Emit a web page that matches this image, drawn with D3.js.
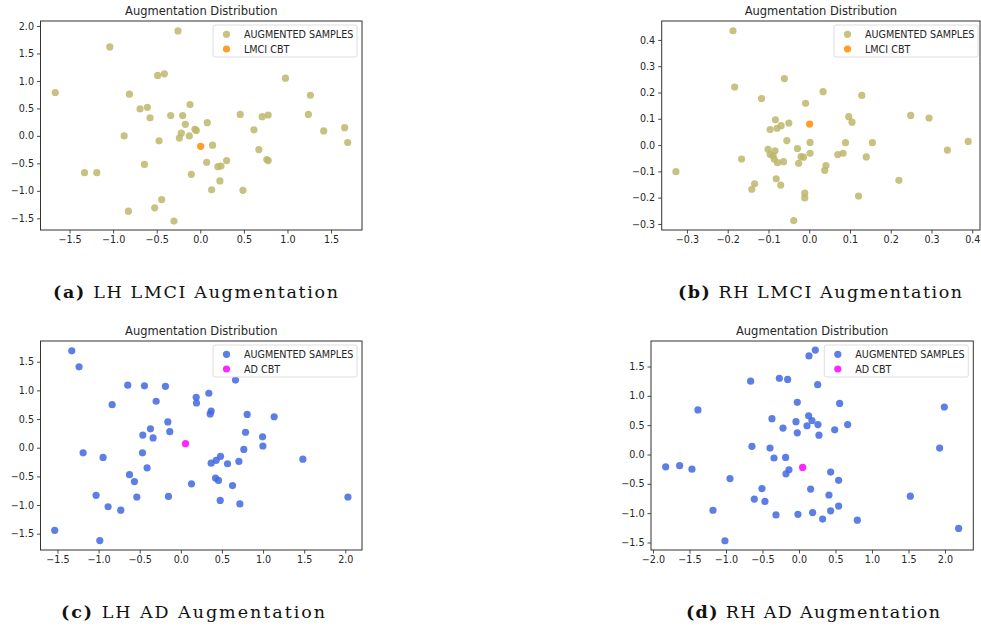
<!DOCTYPE html>
<html>
<head>
<meta charset="utf-8">
<script src="https://cdn.jsdelivr.net/npm/d3@7"></script>
<style>
  body { margin: 0; background: #fff; }
  svg { display: block; }
</style>
</head>
<body>
<svg width="981" height="631"></svg>
<script>
// (a) LH LMCI
var aX = [-0.256,-1.038,-1.664,-0.489,-0.412,-0.813,-0.691,-0.607,-0.576,-0.874,-0.340,-0.118,-0.202,-0.172,-0.061,-0.046,-0.218,-0.240,-0.126,-0.473,0.080,0.141,-0.641,-1.328,-1.187,-0.103,0.073,0.202,0.237,0.302,0.225,0.130,0.489,0.458,0.615,0.672,0.710,0.779,0.763,0.779,0.977,1.263,1.240,1.416,1.656,1.691,-0.443,-0.523,-0.824,-0.302]
var aY = [1.91,1.62,0.79,1.10,1.13,0.76,0.49,0.52,0.33,0.00,0.37,0.57,0.37,0.21,0.12,0.10,0.05,-0.04,0.00,-0.09,0.24,-0.17,-0.52,-0.67,-0.67,-0.70,-0.48,-0.56,-0.55,-0.45,-0.82,-0.98,-0.99,0.39,0.11,-0.25,0.35,0.38,-0.43,-0.45,1.05,0.74,0.39,0.09,0.15,-0.12,-1.16,-1.31,-1.37,-1.55]
var aCbt = [0.004, -0.19]

// (b) RH LMCI
var bX = [-0.187,-0.183,-0.061,-0.117,0.034,-0.009,0.129,-0.083,-0.069,-0.079,-0.096,-0.050,0.097,0.105,0.249,0.294,-0.055,-0.101,-0.096,-0.089,-0.084,-0.086,-0.078,-0.063,-0.029,-0.020,-0.014,-0.026,0.002,0.002,-0.166,-0.327,0.041,0.038,0.089,0.070,0.083,0.155,0.140,0.339,0.390,0.220,0.121,-0.134,-0.141,-0.081,-0.070,-0.011,-0.011,-0.038]
var bY = [0.435,0.221,0.253,0.177,0.203,0.159,0.189,0.096,0.074,0.064,0.059,0.084,0.108,0.087,0.113,0.103,0.017,-0.016,-0.035,-0.040,-0.022,-0.053,-0.067,-0.063,-0.013,-0.044,-0.046,-0.069,0.010,-0.031,-0.053,-0.101,-0.078,-0.096,0.009,-0.036,-0.031,0.009,-0.045,-0.019,0.014,-0.134,-0.194,-0.147,-0.168,-0.128,-0.152,-0.183,-0.201,-0.287]
var bCbt = [0.001, 0.080]

// (c) LH AD
var cX = [-1.326,-1.237,-0.645,-0.442,-0.187,-0.300,-0.835,0.187,0.191,0.341,0.665,0.369,0.357,0.807,1.135,-0.158,-0.134,-0.369,-0.462,-0.337,0.787,0.994,0.998,0.766,-1.188,-0.945,-0.466,-0.410,-0.624,-0.564,-1.030,-0.535,-0.884,-0.730,-0.150,0.130,0.369,0.430,0.483,0.568,0.706,0.422,0.458,0.629,0.479,0.718,1.484,2.032,-1.533,-0.985]
var cY = [1.69,1.41,1.09,1.08,1.07,0.81,0.75,0.88,0.78,0.95,1.18,0.64,0.59,0.58,0.54,0.45,0.28,0.33,0.22,0.17,0.27,0.19,0.03,-0.03,-0.09,-0.17,-0.09,-0.35,-0.47,-0.59,-0.83,-0.86,-1.03,-1.09,-0.85,-0.63,-0.27,-0.22,-0.15,-0.28,-0.24,-0.53,-0.57,-0.66,-0.92,-0.98,-0.20,-0.86,-1.44,-1.62]
var cCbt = [0.057, 0.07]

// (d) RH AD
var dX = [0.137,0.224,-0.269,-0.155,-0.662,0.256,-0.023,0.557,-1.384,1.991,-0.370,0.132,0.178,-0.041,0.110,0.260,-0.219,0.489,0.667,-0.023,0.274,-0.644,-0.397,1.927,-0.342,-0.183,-0.137,-0.178,-1.826,-1.635,-1.466,-0.945,0.434,0.543,-0.507,0.160,-0.612,-0.466,0.411,1.525,-1.178,-0.315,-0.014,0.187,0.324,0.434,0.543,0.799,-1.014,2.187]
var dY = [1.68,1.78,1.30,1.28,1.25,1.19,0.89,0.87,0.76,0.81,0.61,0.66,0.58,0.56,0.49,0.51,0.45,0.42,0.51,0.37,0.33,0.14,0.11,0.11,-0.06,-0.05,-0.26,-0.33,-0.21,-0.19,-0.25,-0.41,-0.30,-0.44,-0.58,-0.59,-0.76,-0.80,-0.69,-0.71,-0.95,-1.03,-1.02,-0.99,-1.10,-0.96,-0.88,-1.12,-1.47,-1.26]
var dCbt = [0.050, -0.22]

var ticksAX = [-1.5,-1.0,-0.5,0.0,0.5,1.0,1.5]
var ticksAY = [-1.5,-1.0,-0.5,0.0,0.5,1.0,1.5,2.0]
var ticksBX = [-0.3,-0.2,-0.1,0.0,0.1,0.2,0.3,0.4]
var ticksBY = [-0.3,-0.2,-0.1,0.0,0.1,0.2,0.3,0.4]
var ticksCX = [-1.5,-1.0,-0.5,0.0,0.5,1.0,1.5,2.0]
var ticksCY = [-1.5,-1.0,-0.5,0.0,0.5,1.0,1.5]
var ticksDX = [-2.0,-1.5,-1.0,-0.5,0.0,0.5,1.0,1.5,2.0]
var ticksDY = [-1.5,-1.0,-0.5,0.0,0.5,1.0,1.5]

var letters = ["(a)", "(b)", "(c)", "(d)"]
var captions = ["LH LMCI Augmentation", "RH LMCI Augmentation", "LH AD Augmentation", "RH AD Augmentation"]
var cbtNames = ["LMCI CBT", "LMCI CBT", "AD CBT", "AD CBT"]

var khaki = "#bdb76b", orange = "#ff8c00", blue = "#4169e1", magenta = "#ff00ff"

var svg = d3.select("svg")

// layout of each panel: plot box, domains, legend spot, caption spot
panels = [
  {xs: aX, ys: aY, cbt: aCbt, tx: ticksAX, ty: ticksAY, c1: khaki, c2: orange,
   box: [40.5, 21, 362, 230], xd: [-1.833, 1.855], yd: [-1.713, 2.091], leg: [213, 25], cap: [53, 338, 298]},
  {xs: bX, ys: bY, cbt: bCbt, tx: ticksBX, ty: ticksBY, c1: khaki, c2: orange,
   box: [661.7, 21, 980, 230], xd: [-0.362, 0.419], yd: [-0.323, 0.472], leg: [834, 25], cap: [678, 962, 298]},
  {xs: cX, ys: cY, cbt: cCbt, tx: ticksCX, ty: ticksCY, c1: blue, c2: magenta,
   box: [40.5, 341, 362, 550], xd: [-1.706, 2.203], yd: [-1.784, 1.861], leg: [213, 345], cap: [61, 325, 618]},
  {xs: dX, ys: dY, cbt: dCbt, tx: ticksDX, ty: ticksDY, c1: blue, c2: magenta,
   box: [651, 341, 973.3, 550], xd: [-2.027, 2.388], yd: [-1.628, 1.935], leg: [824.3, 345], cap: [686, 940, 618]}
]

var fmt = d3.format(".1f")

panels.forEach(function (p, i) {
  var b = p.box
  var x = d3.scaleLinear().domain(p.xd).range([b[0], b[2]])
  var y = d3.scaleLinear().domain(p.yd).range([b[3], b[1]])
  var g = svg.append("g")

  // points first, frame on top
  var pts = d3.range(p.xs.length).map(function (k) { return [p.xs[k], p.ys[k]] })
  g.append("g").selectAll("circle")
    .data(pts).enter()
    .append("circle")
    .attr("cx", function (d) { return x(d[0]) })
    .attr("cy", function (d) { return y(d[1]) })
    .attr("r", 3.6)
    .attr("fill", p.c1)
    .attr("fill-opacity", 0.85)

  g.append("circle")
    .attr("cx", x(p.cbt[0]))
    .attr("cy", y(p.cbt[1]))
    .attr("r", 3.6)
    .attr("fill", p.c2)
    .attr("fill-opacity", 0.85)

  var xAxis = g.append("g")
    .attr("transform", "translate(0," + b[3] + ")")
    .call(d3.axisBottom(x).tickValues(p.tx).tickFormat(fmt).tickSize(3.5).tickPadding(3))
  var yAxis = g.append("g")
    .attr("transform", "translate(" + b[0] + ",0)")
    .call(d3.axisLeft(y).tickValues(p.ty).tickFormat(fmt).tickSize(3.5).tickPadding(3))

  ;[xAxis, yAxis].forEach(function (ax) {
    ax.select(".domain").remove()
    ax.selectAll("line").attr("stroke", "#333").attr("stroke-width", 0.9)
    ax.selectAll("text")
      .attr("fill", "#262626")
      .style("font-family", "DejaVu Sans")
      .style("font-size", "9.6px")
  })

  g.append("rect")
    .attr("x", b[0]).attr("y", b[1])
    .attr("width", b[2] - b[0]).attr("height", b[3] - b[1])
    .attr("fill", "none")
    .attr("stroke", "#333")
    .attr("stroke-width", 1)

  g.append("text")
    .attr("x", (b[0] + b[2]) / 2)
    .attr("y", b[1] - 6)
    .attr("text-anchor", "middle")
    .attr("fill", "#262626")
    .style("font-family", "DejaVu Sans")
    .style("font-size", "11.5px")
    .text("Augmentation Distribution")

  // legend
  var lg = g.append("g").attr("transform", "translate(" + p.leg[0] + "," + p.leg[1] + ")")
  lg.append("rect")
    .attr("width", 144).attr("height", 32).attr("rx", 2)
    .attr("fill", "#fff").attr("fill-opacity", 0.8)
    .attr("stroke", "#d6d6d6").attr("stroke-width", 0.8)
  var rows = [["AUGMENTED SAMPLES", p.c1], [cbtNames[i], p.c2]]
  rows.forEach(function (r, k) {
    lg.append("circle")
      .attr("cx", 13.5).attr("cy", 9.3 + k * 14.7)
      .attr("r", 3.6)
      .attr("fill", r[1]).attr("fill-opacity", 0.85)
    lg.append("text")
      .attr("x", 31).attr("y", 9.3 + k * 14.7 + 3.5)
      .attr("fill", "#262626")
      .style("font-family", "DejaVu Sans")
      .style("font-size", "9.6px")
      .text(r[0])
  })

  // caption under the panel
  var cap = svg.append("text")
    .attr("x", p.cap[0])
    .attr("y", p.cap[2])
    .attr("textLength", p.cap[1] - p.cap[0])
    .attr("lengthAdjust", "spacing")
    .attr("fill", "#111")
    .style("font-family", "DejaVu Serif")
    .style("font-size", "17.5px")
  cap.append("tspan").style("font-weight", "bold").text(letters[i])
  cap.append("tspan").text(" " + captions[i])
})
</script>
</body>
</html>
